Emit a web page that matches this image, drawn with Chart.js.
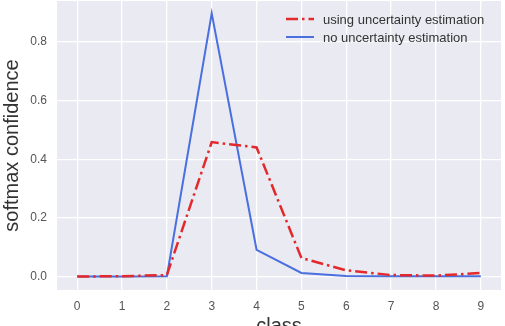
<!DOCTYPE html>
<html>
<head>
<meta charset="utf-8">
<script src="https://cdn.jsdelivr.net/npm/chart.js@4/dist/chart.umd.min.js"></script>
<style>
  html, body { margin: 0; padding: 0; background: #fff; overflow: hidden; }
  #wrap { width: 505px; height: 340px; position: relative; }
</style>
</head>
<body>
<div id="wrap"><canvas id="grafico"></canvas></div>
<script>
// classes 0..9
const classes = [0, 1, 2, 3, 4, 5, 6, 7, 8, 9];
const comIncerteza = [0.001, 0.002, 0.006, 0.459, 0.441, 0.064, 0.022, 0.006, 0.004, 0.013];
const semIncerteza = [0.001, 0.001, 0.002, 0.898, 0.092, 0.013, 0.003, 0.002, 0.002, 0.002];
const yTicks = [0.0, 0.2, 0.4, 0.6, 0.8];
const nomes = ['using uncertainty estimation', 'no uncertainty estimation'];

const fonte = '"Liberation Sans", Arial, sans-serif';

// fundo cinza da área do gráfico (estilo seaborn)
const fundo = {
    id: 'fundo',
    beforeDraw(chart) {
        const a = chart.chartArea;
        const c = chart.ctx;
        c.save();
        c.fillStyle = '#eaeaf2';
        c.fillRect(a.left, a.top, a.right - a.left, a.bottom - a.top);
        c.restore();
    }
};

// legenda dentro do gráfico, canto superior direito
const legenda = {
    id: 'legenda',
    afterDraw(chart) {
        const c = chart.ctx;
        c.save();
        c.font = '13px ' + fonte;
        c.textBaseline = 'middle';
        chart.data.datasets.forEach((ds, i) => {
            const y = 19 + i * 18;
            c.strokeStyle = ds.borderColor;
            c.lineWidth = ds.borderWidth;
            c.setLineDash(ds.borderDash || []);
            c.beginPath();
            c.moveTo(286, y);
            c.lineTo(314, y);
            c.stroke();
            c.setLineDash([]);
            c.fillStyle = '#333';
            c.fillText(ds.label, 323, y + 1);
        });
        c.restore();
    }
};

const dados = (arr) => classes.map((x, i) => ({ x: x, y: arr[i] }));

new Chart(document.getElementById('grafico'), {
    type: 'line',
    data: {
        datasets: [
            {
                label: nomes[0],
                data: dados(comIncerteza),
                borderColor: '#e3292b',
                borderWidth: 2.5,
                borderDash: [12, 4, 2.5, 4],
                pointRadius: 0,
                tension: 0,
                order: 1
            },
            {
                label: nomes[1],
                data: dados(semIncerteza),
                borderColor: '#4a6fdf',
                borderWidth: 2,
                pointRadius: 0,
                tension: 0,
                order: 2
            }
        ]
    },
    options: {
        responsive: true,
        maintainAspectRatio: false,
        animation: false,
        layout: { padding: { top: 1, right: 4, left: 0, bottom: 0 } },
        plugins: {
            legend: { display: false },
            tooltip: { enabled: false }
        },
        scales: {
            x: {
                type: 'linear',
                min: -0.45,
                max: 9.45,
                afterFit(s) { s.height = 50; s.paddingLeft = 0; s.paddingRight = 0; },
                grid: { color: '#ffffff', lineWidth: 1.3, drawTicks: false },
                border: { display: false },
                ticks: {
                    stepSize: 1,
                    includeBounds: false,
                    padding: 9,
                    color: '#555',
                    font: { family: fonte, size: 12 }
                },
                title: {
                    display: true,
                    text: 'class',
                    color: '#333',
                    padding: { top: 0, bottom: 2 },
                    font: { family: fonte, size: 20 }
                }
            },
            y: {
                min: -0.045,
                max: 0.94,
                afterFit(s) { s.width = 57; s.paddingTop = 0; s.paddingBottom = 0; },
                afterBuildTicks(s) { s.ticks = yTicks.map(v => ({ value: v })); },
                grid: { color: '#ffffff', lineWidth: 1.3, drawTicks: false },
                border: { display: false },
                ticks: {
                    padding: 10,
                    color: '#555',
                    font: { family: fonte, size: 12 },
                    callback: (v) => v.toFixed(1)
                },
                title: {
                    display: true,
                    text: 'softmax confidence',
                    color: '#333',
                    padding: { top: 0, bottom: 0 },
                    font: { family: fonte, size: 20 }
                }
            }
        }
    },
    plugins: [fundo, legenda]
});
</script>
</body>
</html>
